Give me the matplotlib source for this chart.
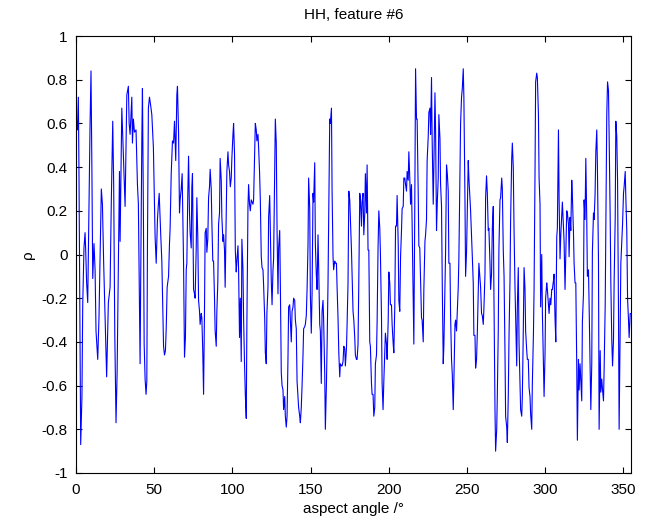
import numpy as np
import matplotlib
matplotlib.use("Agg")
import matplotlib.pyplot as plt

# ---- data (aspect angle in degrees, correlation rho) ----
ang1 = [0.0, 0.9, 1.5, 1.9, 3.0, 3.8, 4.3, 5.1, 5.8, 6.2, 6.8, 7.5, 8.3, 9.0, 9.6, 10.2, 10.7, 11.5, 12.2, 12.8,
        13.9, 14.7, 15.4, 16.2, 16.9, 17.7, 18.6, 19.6, 20.7, 21.8, 22.6, 23.5, 24.1, 24.8, 25.6, 26.3, 27.1, 27.8, 28.2, 29.3,
        30.3, 31.4]
rho1 = [0.64, 0.57, 0.72, 0.38, -0.87, -0.65, -0.23, 0.03, 0.10, 0.02, -0.13, -0.22, 0.21, 0.60, 0.84, 0.36, -0.11, 0.05, -0.07, -0.35,
        -0.48, -0.29, -0.01, 0.30, 0.23, -0.04, -0.28, -0.56, -0.22, -0.15, 0.25, 0.61, 0.32, -0.36, -0.77, -0.54, -0.04, 0.38, 0.06, 0.67,
        0.46, 0.22]

ang2 = [32.5, 33.5, 34.0, 34.6, 35.7, 36.1, 36.7, 37.4, 38.4, 39.3, 39.9, 40.6, 41.0, 41.4, 42.1, 42.5, 43.1, 43.6, 44.2, 44.8,
        45.3, 45.7, 46.3, 47.0, 47.8, 48.5, 49.5, 50.6, 51.3, 52.1, 52.7, 53.2, 53.8, 54.2, 54.9, 55.5, 56.0, 56.6, 57.2, 57.7,
        58.3, 59.2, 59.8, 60.2, 60.9, 61.7, 62.4, 63.0, 63.8, 64.5, 64.9, 65.6, 66.2, 66.6, 67.3, 67.9, 68.8, 69.4]
rho2 = [0.73, 0.77, 0.60, 0.55, 0.72, 0.51, 0.62, 0.56, 0.57, 0.32, 0.23, -0.23, -0.50, -0.10, 0.52, 0.76, 0.21, -0.41, -0.57, -0.64,
        -0.58, 0.04, 0.67, 0.72, 0.68, 0.64, 0.49, 0.08, -0.04, 0.16, 0.23, 0.28, 0.16, 0.09, -0.03, -0.25, -0.42, -0.46, -0.44, -0.34,
        -0.15, -0.10, 0.05, 0.12, 0.37, 0.52, 0.51, 0.61, 0.43, 0.73, 0.77, 0.56, 0.19, 0.25, 0.30, 0.37, -0.04, -0.47]

ang3 = [70.0, 70.5, 70.9, 71.5, 72.0, 72.6, 73.0, 73.7, 74.1, 74.5, 75.2, 75.8, 76.2, 76.9, 77.3, 77.9, 78.4, 79.0, 79.4, 80.1,
        80.5, 81.1, 81.6, 82.2, 82.6, 83.3, 83.7, 84.3, 84.8, 85.4, 85.8, 86.5, 86.9, 87.5, 88.0, 88.6, 89.0, 89.7, 90.1, 90.7,
        91.2, 91.8, 92.2, 92.9, 93.3, 94.0, 94.4, 95.0, 95.4, 96.1, 96.5, 97.2, 97.6, 98.2, 98.7, 99.3, 99.7, 100.4, 100.8, 101.4,
        101.9, 102.5, 102.9, 103.6, 104.0, 104.6]
rho3 = [-0.38, -0.07, -0.04, 0.27, 0.45, 0.19, 0.10, 0.03, 0.31, 0.37, -0.16, -0.18, -0.20, 0.03, 0.26, 0.08, -0.21, -0.26, -0.32, -0.27,
        -0.29, -0.45, -0.64, -0.25, 0.10, 0.12, 0.01, 0.07, 0.26, 0.31, 0.39, 0.30, 0.15, -0.03, -0.03, -0.20, -0.35, -0.42, -0.26, -0.13,
        0.14, 0.19, 0.44, 0.34, 0.17, 0.06, 0.09, 0.02, -0.15, 0.19, 0.38, 0.47, 0.41, 0.38, 0.31, 0.35, 0.44, 0.55, 0.60, 0.46,
        0.02, -0.08, -0.03, 0.04, -0.07, -0.38]

ang4 = [105.1, 105.7, 106.1, 106.8, 107.2, 107.8, 108.3, 108.9, 109.3, 110.0, 110.4, 111.0, 111.5, 112.1, 113.2, 113.6, 114.2, 114.7, 115.3, 115.7,
        116.4, 116.8, 117.4, 117.9, 118.5, 119.0, 119.6, 120.0, 120.7, 121.1, 121.7, 122.1, 122.8, 123.2, 123.9, 124.3, 124.9, 125.4, 126.0, 126.4,
        127.1, 127.5, 128.1, 128.6, 129.2, 129.6, 130.3, 130.7, 131.3, 131.8, 132.4, 132.8, 133.5, 133.9, 134.5, 135.0, 135.6, 136.0, 136.7, 137.1,
        137.7, 138.2, 138.8, 139.2]
rho4 = [-0.20, -0.49, 0.07, -0.07, -0.29, -0.50, -0.64, -0.75, -0.32, 0.22, 0.32, 0.23, 0.20, 0.25, 0.23, 0.25, 0.44, 0.60, 0.57, 0.52,
        0.55, 0.49, 0.38, 0.25, -0.01, -0.06, -0.07, -0.14, -0.29, -0.45, -0.50, -0.27, -0.15, 0.17, 0.27, 0.11, -0.12, -0.23, -0.07, -0.02,
        0.37, 0.62, 0.51, 0.11, -0.18, 0.03, 0.11, -0.13, -0.54, -0.60, -0.62, -0.71, -0.65, -0.74, -0.79, -0.74, -0.47, -0.24, -0.23, -0.30,
        -0.40, -0.26, -0.24, -0.20]

ang5 = [139.9, 140.3, 140.9, 141.4, 142.0, 142.4, 143.1, 143.5, 144.1, 144.6, 145.2, 145.6, 146.3, 146.7, 147.3, 147.8, 148.4, 148.8, 149.5, 149.9,
        150.5, 151.0, 151.6, 152.0, 152.7, 153.1, 153.7, 154.2, 154.8, 155.2, 155.9, 156.3, 156.9, 157.4, 158.0, 158.4, 159.1, 159.5, 160.2, 160.6,
        161.2, 161.6, 162.3, 162.7, 163.4, 163.8, 164.4, 164.8, 165.5, 165.9, 166.6, 167.0, 167.6, 168.1, 168.7, 169.1, 169.8, 170.2, 170.8, 171.3,
        171.9, 172.3, 173.0, 173.4, 174.0, 174.5]
rho5 = [-0.21, -0.30, -0.34, -0.58, -0.65, -0.70, -0.74, -0.77, -0.70, -0.60, -0.46, -0.34, -0.33, -0.32, -0.28, -0.16, 0.04, 0.35, 0.21, -0.18,
        -0.36, -0.18, 0.28, 0.24, 0.42, 0.05, -0.09, -0.16, 0.09, -0.05, -0.32, -0.35, -0.59, -0.26, -0.21, -0.30, -0.55, -0.80, -0.59, -0.42,
        -0.13, 0.14, 0.62, 0.60, 0.67, 0.29, -0.01, -0.07, -0.03, -0.04, -0.04, -0.15, -0.29, -0.45, -0.56, -0.50, -0.51, -0.51, -0.49, -0.42,
        -0.43, -0.51, -0.43, -0.32, -0.13, 0.29]

ang6 = [175.1, 176.2, 177.2, 177.7, 178.3, 178.7, 179.4, 179.8, 180.4, 180.9, 181.5, 181.9, 182.6, 183.0, 183.6, 184.1, 184.7, 185.1, 185.8, 186.2,
        186.8, 187.3, 187.9, 188.3, 189.0, 189.4, 190.0, 190.5, 191.1, 191.5, 192.2, 192.6, 193.2, 193.7, 194.3, 194.7, 195.4, 195.8, 196.4, 196.9,
        197.5, 197.9, 198.6, 199.0, 199.7, 200.1, 200.7, 201.1, 201.8, 202.2, 202.9, 203.3, 203.9, 204.4, 205.0, 205.4, 206.1, 206.5, 207.1, 207.6,
        208.2, 208.6, 209.3, 209.7, 210.3]
rho6 = [0.25, 0.02, -0.26, -0.30, -0.38, -0.46, -0.48, -0.48, -0.41, -0.12, 0.28, 0.26, 0.13, 0.24, 0.28, 0.09, 0.19, 0.37, 0.19, 0.41,
        0.02, 0.02, -0.40, -0.42, -0.59, -0.64, -0.64, -0.74, -0.70, -0.50, -0.46, -0.31, 0.03, 0.20, 0.12, 0.01, -0.28, -0.59, -0.71, -0.58,
        -0.45, -0.36, -0.41, -0.48, -0.30, -0.08, -0.13, -0.23, -0.23, -0.32, -0.41, -0.45, -0.24, 0.13, 0.13, 0.27, 0.05, -0.21, -0.26, -0.01,
        0.11, 0.21, 0.22, 0.35, 0.35]

ang7 = [210.8, 211.4, 211.8, 212.5, 212.9, 213.5, 214.0, 214.6, 215.0, 215.7, 216.1, 216.7, 217.2, 217.8, 218.2, 218.9, 219.3, 219.9, 220.4, 221.0,
        221.4, 222.1, 222.5, 223.2, 223.6, 224.2, 224.6, 225.3, 225.7, 226.4, 226.8, 227.4, 227.8, 228.5, 228.9, 229.6, 230.0, 230.6, 231.1, 231.7,
        232.1, 232.8, 233.2, 233.8, 234.3, 234.9, 235.3, 236.0, 236.4, 237.0, 237.5, 238.1, 238.5, 239.2, 239.6, 240.2, 240.7, 241.3, 241.7, 242.4,
        242.8, 243.4, 243.9, 244.5, 244.9, 245.6]
rho7 = [0.32, 0.29, 0.38, 0.34, 0.47, 0.35, 0.23, 0.32, 0.14, -0.23, -0.41, 0.22, 0.85, 0.62, 0.62, 0.28, 0.04, 0.03, -0.11, -0.29,
        -0.30, -0.40, -0.16, 0.06, 0.09, 0.16, 0.43, 0.54, 0.65, 0.67, 0.55, 0.81, 0.53, 0.23, 0.40, 0.74, 0.57, 0.11, 0.24, 0.35,
        0.64, 0.53, 0.32, 0.22, -0.15, -0.50, -0.42, -0.13, 0.01, 0.41, 0.37, 0.29, -0.04, -0.04, -0.28, -0.48, -0.55, -0.71, -0.58, -0.32,
        -0.30, -0.35, -0.26, -0.15, -0.02, 0.38]

ang8 = [246.0, 246.6, 247.1, 247.7, 248.1, 248.8, 249.2, 249.8, 250.3, 250.9, 251.3, 252.0, 252.4, 253.0, 253.5, 254.1, 254.5, 255.2, 255.6, 256.2,
        256.7, 257.3, 257.7, 258.4, 258.8, 259.4, 259.9, 260.5, 260.9, 261.6, 262.0, 262.6, 263.1, 263.7, 264.1, 264.8, 265.2, 265.8, 266.3, 266.9,
        267.3, 268.0, 268.4, 269.1, 269.5, 270.1, 270.5, 271.2, 271.6, 272.3, 272.7, 273.3, 273.8, 274.4, 274.8, 275.5, 275.9, 276.5, 277.0, 277.6,
        278.0, 278.7, 279.1, 279.7, 280.2, 280.8]
rho8 = [0.60, 0.72, 0.76, 0.85, 0.72, 0.25, -0.10, 0.01, 0.19, 0.43, 0.35, 0.25, 0.20, 0.09, -0.01, -0.13, -0.37, -0.37, -0.52, -0.48,
        -0.36, -0.18, -0.04, -0.11, -0.15, -0.27, -0.28, -0.32, -0.25, -0.09, 0.26, 0.36, 0.28, 0.11, 0.12, -0.04, -0.16, -0.09, 0.12, 0.22,
        -0.16, -0.71, -0.90, -0.80, -0.64, -0.35, 0.02, 0.25, 0.26, 0.35, 0.30, 0.02, -0.10, -0.45, -0.74, -0.79, -0.86, -0.65, -0.36, -0.12,
        0.16, 0.44, 0.51, 0.40, 0.11, -0.15]

ang9 = [281.9, 282.3, 282.9, 283.4, 284.0, 284.4, 285.1, 285.5, 286.1, 286.6, 287.2, 287.6, 288.3, 288.7, 289.3, 289.8, 290.4, 290.8, 291.5, 291.9,
        292.6, 293.0, 293.6, 294.0, 294.7, 295.1, 295.8, 296.2, 296.8, 297.2, 297.9, 298.3, 298.9, 299.4, 300.0, 300.4, 301.1, 301.5, 302.2, 302.6,
        303.2, 303.7, 304.3, 304.7, 305.4, 305.8, 306.4, 306.9, 307.5, 307.9, 308.6, 309.0, 309.6, 310.1, 310.7, 311.1, 311.8, 312.2, 312.8, 313.3,
        313.9, 314.3, 315.0, 315.4, 316.0]
rho9 = [-0.51, -0.24, -0.06, -0.41, -0.59, -0.71, -0.74, -0.65, -0.35, -0.06, -0.16, -0.35, -0.44, -0.48, -0.48, -0.61, -0.65, -0.73, -0.80, -0.59,
        -0.36, -0.16, 0.37, 0.79, 0.83, 0.81, 0.64, 0.35, 0.23, -0.24, 0.00, -0.26, -0.48, -0.65, -0.46, -0.20, -0.13, -0.16, -0.23, -0.27,
        -0.20, -0.23, -0.16, -0.16, -0.12, -0.09, -0.29, -0.40, 0.08, 0.12, 0.57, 0.26, -0.02, 0.09, 0.18, 0.24, 0.12, 0.06, -0.16, 0.00,
        0.20, 0.19, 0.14, -0.01, 0.17]

ang10 = [316.5, 317.1, 317.5, 318.2, 318.6, 319.2, 319.7, 320.3, 320.7, 321.4, 321.8, 322.4, 322.9, 323.5, 323.9, 324.6, 325.0, 325.6, 326.1, 326.7,
         327.1, 327.8, 328.2, 328.8, 329.3, 329.9, 330.3, 331.0, 331.4, 332.0, 332.5, 333.1, 333.5, 334.2, 334.6, 335.3, 335.7, 336.3, 336.8, 337.4,
         337.8, 338.5, 338.9, 339.5, 340.0, 340.6, 341.0, 341.7, 342.1, 342.7, 343.2, 343.8, 344.2, 344.9, 345.3, 345.9, 346.4, 347.0, 347.4, 348.1,
         348.5, 349.1, 349.6, 350.2, 350.6, 351.3, 351.7, 352.3, 352.8, 353.4, 353.8, 354.5, 354.9]
rho10 = [0.11, 0.34, 0.27, 0.10, -0.04, -0.13, -0.13, -0.51, -0.85, -0.48, -0.62, -0.50, -0.58, -0.67, -0.31, -0.18, 0.25, 0.16, 0.44, 0.16,
         -0.10, -0.07, -0.23, -0.50, -0.71, -0.50, 0.01, 0.19, 0.16, 0.27, 0.47, 0.57, 0.41, -0.03, -0.80, -0.44, -0.63, -0.57, -0.62, -0.67,
         -0.53, -0.23, 0.12, 0.64, 0.79, 0.75, 0.55, 0.16, -0.13, -0.39, -0.51, -0.39, -0.13, 0.17, 0.61, 0.54, 0.34, -0.26, -0.80, -0.32,
         -0.04, 0.06, 0.14, 0.28, 0.31, 0.38, 0.26, 0.11, -0.20, -0.30, -0.38, -0.27, -0.27]

x_ticks = [0, 50, 100, 150, 200, 250, 300, 350]
y_ticks = [-1, -0.8, -0.6, -0.4, -0.2, 0, 0.2, 0.4, 0.6, 0.8, 1]
y_ticklabels = ["-1", "-0.8", "-0.6", "-0.4", "-0.2", "0", "0.2", "0.4", "0.6", "0.8", "1"]

angle_segments = [ang1, ang2, ang3, ang4, ang5, ang6, ang7, ang8, ang9, ang10]
rho_segments = [rho1, rho2, rho3, rho4, rho5, rho6, rho7, rho8, rho9, rho10]
for a, r in zip(angle_segments, rho_segments):
    assert len(a) == len(r), (len(a), len(r), a[0])
angle = np.concatenate([np.asarray(a, float) for a in angle_segments])
rho = np.concatenate([np.asarray(r, float) for r in rho_segments])

# ---- styling ----
plt.rcParams['font.family'] = ['Liberation Sans Narrow', 'Liberation Sans', 'DejaVu Sans']
FS = 11

fig = plt.figure(figsize=(6.45, 5.2), dpi=100, facecolor='white')
W, H = 645.0, 520.0
ax = fig.add_axes([76 / W, 1 - 473 / H, (631 - 76) / W, (473 - 36) / H])

ax.plot(angle, rho, color=(0, 0, 1), linewidth=0.8)

ax.set_xlim(0, 355)
ax.set_ylim(-1, 1)
ax.set_xticks(x_ticks)
ax.set_yticks(y_ticks)
ax.set_yticklabels(y_ticklabels)
ax.tick_params(direction='in', length=4, width=0.8, top=True, right=True,
               labelsize=FS, colors='black')
ax.tick_params(axis='x', pad=7)
ax.tick_params(axis='y', pad=6)
for s in ax.spines.values():
    s.set_linewidth(0.8)
    s.set_color('black')

ax.set_title("HH, feature #6", fontsize=FS, pad=12)
ax.set_xlabel("aspect angle /°", fontsize=FS, labelpad=4)
ax.set_ylabel("ρ", fontsize=FS, labelpad=5)

fig.savefig("out.png", dpi=100, facecolor='white')
